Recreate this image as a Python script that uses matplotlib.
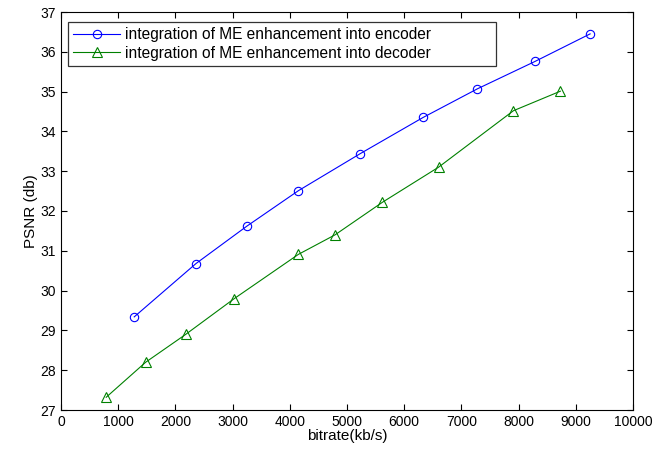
import numpy as np
import matplotlib.pyplot as plt

plt.rcParams['font.family'] = ['Liberation Sans', 'DejaVu Sans']

enc_rate = [1280, 2360, 3250, 4150, 5230, 6330, 7280, 8290, 9250]
enc_psnr = [29.34, 30.68, 31.62, 32.51, 33.44, 34.35, 35.07, 35.76, 36.45]

dec_rate = [790, 1480, 2180, 3030, 4150, 4790, 5620, 6600, 7910, 8730]
dec_psnr = [27.32, 28.2, 28.9, 29.8, 30.91, 31.4, 32.22, 33.1, 34.52, 35.01]

fig = plt.figure(figsize=(6.67, 4.49), dpi=100)
ax = fig.add_axes([61 / 667, 1 - 410 / 449, 572 / 667, 398 / 449])

ax.plot(enc_rate, enc_psnr, color='#0000ff', lw=0.8, marker='o', ms=6,
        mfc='none', mew=0.8, label='integration of ME enhancement into encoder')
ax.plot(dec_rate, dec_psnr, color='#008000', lw=0.8, marker='^', ms=7,
        mfc='none', mew=0.8, label='integration of ME enhancement into decoder')

ax.set_xlim(0, 10000)
ax.set_ylim(27, 37)
ax.set_xticks(np.arange(0, 10001, 1000))
ax.set_yticks(np.arange(27, 38, 1))
ax.tick_params(direction='in', top=True, right=True, labelsize=10, length=4)
ax.set_xlabel('bitrate(kb/s)', fontsize=11, labelpad=0)
ax.set_ylabel('PSNR (db)', fontsize=11, labelpad=2)

# MATLAB-style legend box, wider than its text
leg = ax.legend(loc='upper left', fontsize=11.2, fancybox=False, edgecolor='black',
                borderpad=0.35, labelspacing=0.2, handlelength=3.0,
                handletextpad=0.35, borderaxespad=0, mode='expand',
                bbox_to_anchor=(0.012, 0.5, 0.748, 0.475))
leg.get_frame().set_linewidth(0.9)

fig.savefig('out.png', dpi=100)
